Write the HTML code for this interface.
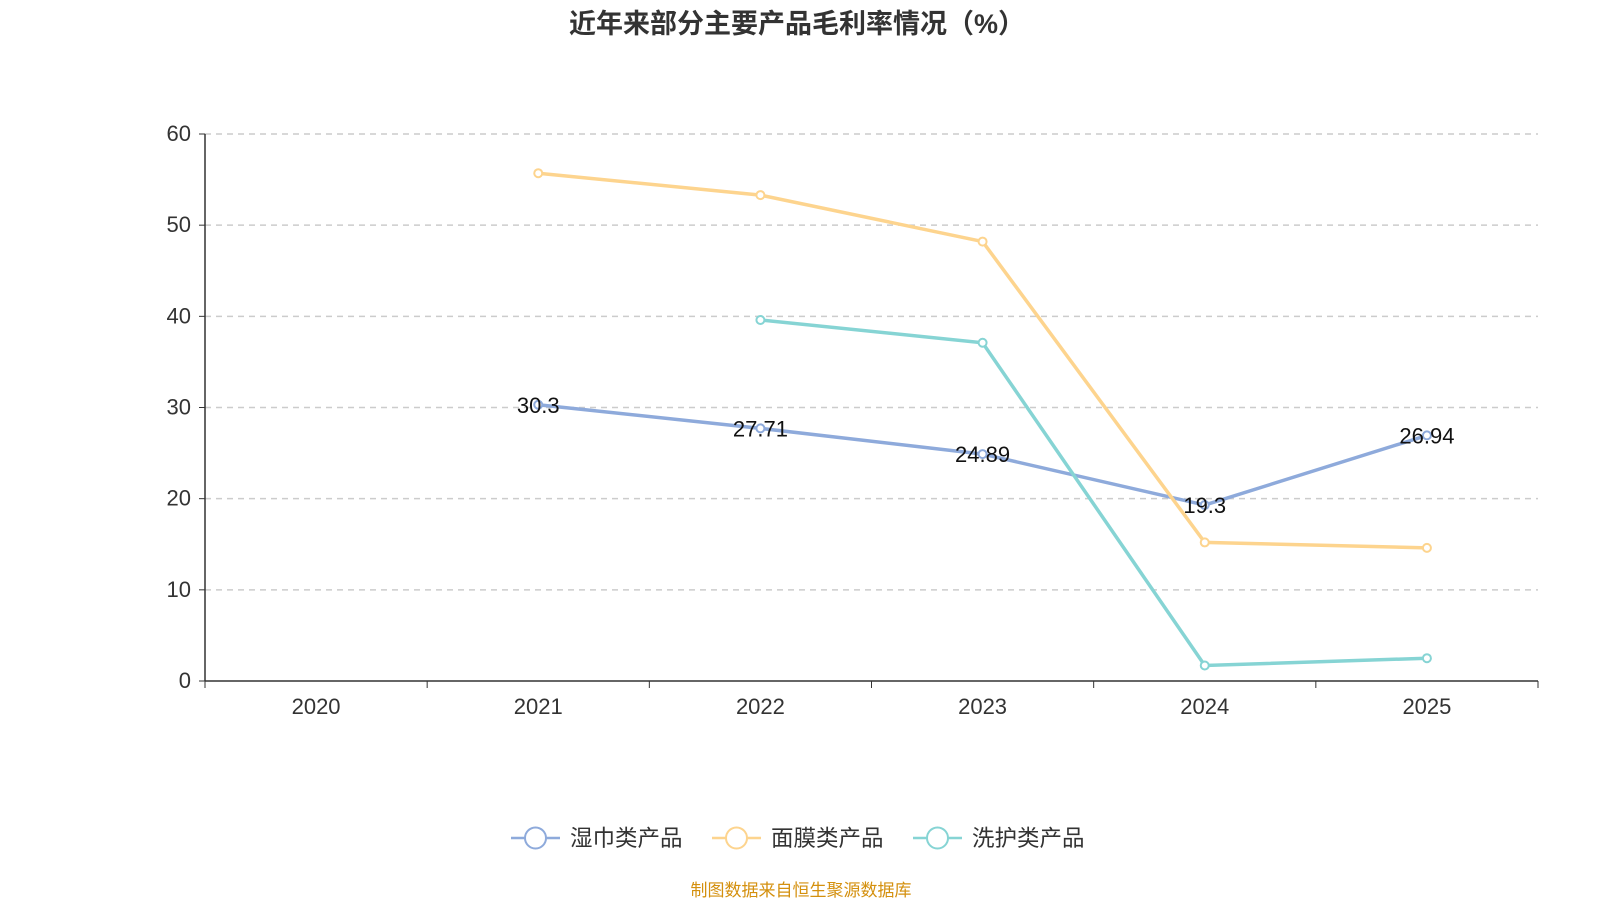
<!DOCTYPE html>
<html><head><meta charset="utf-8">
<style>
body{margin:0;background:#fff;width:1600px;height:900px;overflow:hidden;font-family:"Liberation Sans","Noto Sans CJK SC",sans-serif;}
</style></head>
<body>
<svg id="chart" width="1600" height="900" xmlns="http://www.w3.org/2000/svg">
<text x="797" y="33" text-anchor="middle" font-size="27" font-weight="bold" fill="#333" font-family="Liberation Sans, Noto Sans CJK SC, sans-serif">近年来部分主要产品毛利率情况（%）</text>
<g id="grid"></g><g id="axes"></g><g id="series"></g><g id="legend"></g>
<text x="801" y="896" text-anchor="middle" font-size="17" fill="#d4900e" font-family="Liberation Sans, Noto Sans CJK SC, sans-serif">制图数据来自恒生聚源数据库</text>
</svg>
<script>
const categories=["2020","2021","2022","2023","2024","2025"];
const yTicks=[0,10,20,30,40,50,60];
const wipes=[null,30.3,27.71,24.89,19.3,26.94];
const masks=[null,55.7,53.3,48.2,15.2,14.6];
const care=[null,null,39.6,37.1,1.7,2.5];
const names=["湿巾类产品","面膜类产品","洗护类产品"];
const colors=["#8eaadb","#fdd48e","#86d4d4"];
const NS="http://www.w3.org/2000/svg";
const x0=205,x1=1538,y0=681,yTop=134;
const bw=(x1-x0)/categories.length;
const xS=i=>x0+bw*(i+0.5);
const yS=v=>y0-(v/60)*(y0-yTop);
function mk(tag,attrs,parent,txt){const e=document.createElementNS(NS,tag);for(const k in attrs)e.setAttribute(k,attrs[k]);if(txt!==undefined)e.textContent=txt;parent.appendChild(e);return e;}
const grid=document.getElementById('grid'),axes=document.getElementById('axes'),ser=document.getElementById('series'),leg=document.getElementById('legend');
const F="Liberation Sans, Noto Sans CJK SC, sans-serif";
yTicks.forEach(t=>{
 if(t>0){const l=mk('line',{x1:x0,x2:x1,y1:yS(t),y2:yS(t),stroke:'#ccc','stroke-dasharray':'6,5','stroke-width':1.5},grid);
 
 }
 mk('line',{x1:x0-6,x2:x0,y1:yS(t),y2:yS(t),stroke:'#333'},axes);
 const tx=mk('text',{x:x0-14,y:yS(t)+7,'text-anchor':'end','font-size':22,fill:'#333','font-family':F},axes,t);
 
 
});
mk('line',{x1:x0,x2:x0,y1:yTop,y2:y0,stroke:'#333','stroke-width':1.5},axes);
mk('line',{x1:x0,x2:x1,y1:y0,y2:y0,stroke:'#333','stroke-width':1.5},axes);
for(let i=0;i<=categories.length;i++)mk('line',{x1:x0+bw*i,x2:x0+bw*i,y1:y0,y2:y0+7,stroke:'#333'},axes);
categories.forEach((c,i)=>{const t=mk('text',{x:xS(i),y:y0+33,'text-anchor':'middle','font-size':22,fill:'#333','font-family':F},axes,c);
 
 });
[wipes,masks,care].forEach((arr,s)=>{
 const g=mk('g',{},ser);
 
 
 const pts=[];arr.forEach((v,i)=>{if(v!==null)pts.push([xS(i),yS(v),v]);});
 mk('polyline',{points:pts.map(p=>p[0]+','+p[1]).join(' '),fill:'none',stroke:colors[s],'stroke-width':3.5},g);
 pts.forEach(p=>{const c=mk('circle',{cx:p[0],cy:p[1],r:4,fill:'#fff',stroke:colors[s],'stroke-width':2},g);
  
  
  if(s===0){const t=mk('text',{x:p[0],y:p[1]+8,'text-anchor':'middle','font-size':22,fill:'#111','font-family':F},g,p[2]);
   
   }
 });
});
const lx=[511,712,913];
names.forEach((n,s)=>{
 const g=mk('g',{},leg);
 
 
 mk('line',{x1:lx[s],x2:lx[s]+49,y1:838,y2:838,stroke:colors[s],'stroke-width':2.5},g);
 mk('circle',{cx:lx[s]+24.5,cy:838,r:10.5,fill:'#fff',stroke:colors[s],'stroke-width':2},g);
 mk('text',{x:lx[s]+59,y:846,'font-size':22.5,fill:'#333','font-family':F},g,n);
});
</script>
</body></html>
